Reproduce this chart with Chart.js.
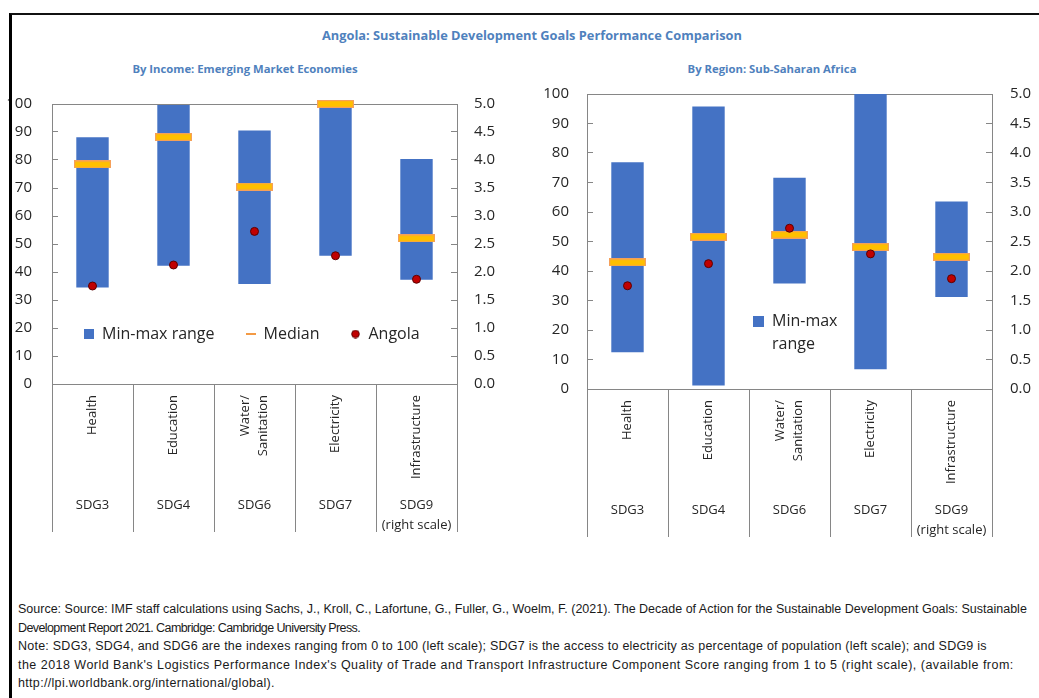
<!DOCTYPE html>
<html>
<head>
<meta charset="utf-8">
<script src="https://cdn.jsdelivr.net/npm/chart.js@4.4.1/dist/chart.umd.min.js"></script>
<style>
  html, body { margin: 0; padding: 0; background: #fff; }
  #page { position: relative; width: 1039px; height: 698px; overflow: hidden; background: #fff; }
  #frame { position: absolute; left: 9px; top: 13px; width: 1200px; height: 800px;
           border-left: 3px solid #000; border-top: 2px solid #111; z-index: 5; pointer-events: none; }
  .ttl { position: absolute; text-align: center; font-family: 'Open Sans', 'Noto Sans', sans-serif;
         font-weight: bold; color: #4f81bd; white-space: nowrap; }
  canvas { position: absolute; }
  #notes { position: absolute; left: 18px; top: 600px; font-family: 'Liberation Sans', Arial, sans-serif;
           font-size: 12.5px; line-height: 18.6px; color: #1a1a1a; white-space: nowrap; }
</style>
</head>
<body>
<div id="page">
  <div id="frame"></div>
  <div class="ttl" style="left:0;top:26px;width:1064px;font-size:12.8px;">Angola: Sustainable Development Goals Performance Comparison</div>
  <div class="ttl" style="left:0;top:61px;width:490px;font-size:11.3px;">By Income: Emerging Market Economies</div>
  <div class="ttl" style="left:520px;top:61px;width:504px;font-size:11.3px;">By Region: Sub-Saharan Africa</div>
  <canvas id="c1" width="520" height="472" style="left:0;top:69px;"></canvas>
  <canvas id="c2" width="519" height="489" style="left:520px;top:61px;"></canvas>
  <div id="notes">
    <div style="letter-spacing:0px">Source: Source: IMF staff calculations using Sachs, J., Kroll, C., Lafortune, G., Fuller, G., Woelm, F. (2021). The Decade of Action for the Sustainable Development Goals: Sustainable</div>
    <div style="letter-spacing:-0.59px">Development Report 2021. Cambridge: Cambridge University Press.</div>
    <div style="letter-spacing:0.24px">Note: SDG3, SDG4, and SDG6 are the indexes ranging from 0 to 100 (left scale); SDG7 is the access to electricity as percentage of population (left scale); and SDG9 is</div>
    <div style="letter-spacing:0.47px">the 2018 World Bank's Logistics Performance Index's Quality of Trade and Transport Infrastructure Component Score ranging from 1 to 5 (right scale), (available from:</div>
    <div style="letter-spacing:0.32px">http://lpi.worldbank.org/international/global).</div>
  </div>
</div>
<script>
// ---------- data ----------
const categories = ['Health', 'Education', ['Water/', 'Sanitation'], 'Electricity', 'Infrastructure'];
const sdgLabels = ['SDG3', 'SDG4', 'SDG6', 'SDG7', ['SDG9', '(right scale)']];
const rightScaleIndex = 4; // SDG9 uses the right scale (1-5)

// By Income: Emerging Market Economies
const emMin    = [34.5, 42.2, 35.7, 45.8, 1.86];
const emMax    = [88.1, 99.6, 90.5, 100.0, 4.02];
const emMedian = [78.4, 88.2, 70.5, 100.0, 2.60];

// By Region: Sub-Saharan Africa
const ssaMin    = [12.5, 1.2, 35.8, 6.7, 1.56];
const ssaMax    = [76.9, 95.8, 71.6, 100.0, 3.18];
const ssaMedian = [42.9, 51.6, 52.3, 48.1, 2.24];

// Angola
const angola = [35.0, 42.5, 54.5, 45.8, 1.87];

// ---------- styles ----------
const FONT = "'Open Sans', 'Noto Sans', sans-serif";
const TEXT = '#262626';
const GRID = '#868686';
const BAR = '#4472C4';
const MED_FILL = '#FFC000';
const MED_EDGE = '#F5A05A';
const DOT = '#C00000';

function makeCanvas(w, h, draw) {
  const c = document.createElement('canvas');
  c.width = w; c.height = h;
  draw(c.getContext('2d'), w, h);
  return c;
}
const medianImg = makeCanvas(37, 8, (g, w, h) => {
  g.fillStyle = MED_FILL; g.fillRect(0.5, 0.5, w - 1, h - 1);
  g.strokeStyle = MED_EDGE; g.lineWidth = 1.2; g.strokeRect(0.6, 0.6, w - 1.2, h - 1.2);
});
const boxImg = s => makeCanvas(s, s, (g, w, h) => { g.fillStyle = BAR; g.fillRect(0, 0, w, h); });
const blankImg = makeCanvas(11, 11, () => {});
const dashImg = makeCanvas(10, 2, (g, w, h) => { g.fillStyle = '#F39A45'; g.fillRect(0, 0, w, h); });
const dotImg = makeCanvas(9, 9, (g) => {
  g.beginPath(); g.arc(4.5, 4.5, 3.8, 0, Math.PI * 2);
  g.fillStyle = DOT; g.fill(); g.strokeStyle = '#5B0000'; g.lineWidth = 1; g.stroke();
});

function rangeFor(mins, maxs, right) {
  return mins.map((v, i) => ((i === rightScaleIndex) === right ? [v, maxs[i]] : null));
}
function valsFor(vals, right) {
  return vals.map((v, i) => ((i === rightScaleIndex) === right ? v : null));
}

// places the legend inside the plot area (legend reserves no layout space)
const legendInside = {
  id: 'legendInside',
  beforeLayout(chart) {
    const lg = chart.legend;
    if (lg && !lg.$wrapped) {
      const origFit = lg.fit;
      lg.fit = function () { origFit.call(this); this.$fullH = this.height; this.height = 0; };
      lg.$wrapped = true;
    }
  },
  afterUpdate(chart, args, opts) {
    const lg = chart.legend, a = chart.chartArea;
    lg.left = a.left + opts.dx;
    lg.right = opts.w ? lg.left + opts.w : a.right;
    lg.top = a.top + opts.dy;
    lg.height = opts.h || lg.$fullH || 40;
    lg.bottom = lg.top + lg.height;
    lg.width = lg.right - lg.left;
    if (lg.adjustHitBoxes) lg.adjustHitBoxes();
  }
};

// centre multi-line rotated category labels on their tick
const centerMultiline = {
  id: 'centerMultiline',
  beforeDraw(chart) {
    const sc = chart.scales.x;
    sc.getLabelItems(chart.chartArea).forEach(it => {
      if (Array.isArray(it.label) && it.label.length > 1 && !it.$shifted) {
        it.options.translation[0] -= (it.label.length - 1) * it.font.lineHeight / 2;
        it.$shifted = true;
      }
    });
  }
};

function buildChart(id, mins, maxs, medians, geo) {
  const datasets = [
    { type: 'bar', label: 'Min-max range', data: rangeFor(mins, maxs, false), yAxisID: 'y',
      backgroundColor: BAR, borderWidth: 0, grouped: false, barPercentage: 0.4, categoryPercentage: 1, order: 3 },
    { type: 'bar', label: 'Min-max range (right)', data: rangeFor(mins, maxs, true), yAxisID: 'y2',
      backgroundColor: BAR, borderWidth: 0, grouped: false, barPercentage: 0.4, categoryPercentage: 1, order: 3 },
    { type: 'line', label: 'Median', data: valsFor(medians, false), yAxisID: 'y', showLine: false,
      pointStyle: medianImg, pointRadius: 1, pointHoverRadius: 1, pointBorderWidth: 0, clip: false, order: 2 },
    { type: 'line', label: 'Median (right)', data: valsFor(medians, true), yAxisID: 'y2', showLine: false,
      pointStyle: medianImg, pointRadius: 1, pointHoverRadius: 1, pointBorderWidth: 0, clip: false, order: 2 },
    { type: 'line', label: 'Angola', data: valsFor(angola, false), yAxisID: 'y', showLine: false,
      pointStyle: 'circle', pointRadius: 4, pointHoverRadius: 4, pointBackgroundColor: DOT, pointBorderColor: '#5B0000',
      pointBorderWidth: 1, clip: false, order: 1 },
    { type: 'line', label: 'Angola (right)', data: valsFor(angola, true), yAxisID: 'y2', showLine: false,
      pointStyle: 'circle', pointRadius: 4, pointHoverRadius: 4, pointBackgroundColor: DOT, pointBorderColor: '#5B0000',
      pointBorderWidth: 1, clip: false, order: 1 }
  ];
  const tickFont = { family: FONT, size: 15 };
  const nameFont = { family: FONT, size: 13, lineHeight: 1.4 };
  const sdgFont = { family: FONT, size: 13, lineHeight: 1.55 };
  return new Chart(document.getElementById(id), {
    type: 'bar',
    data: { labels: categories, datasets },
    options: {
      responsive: false,
      animation: false,
      layout: { padding: { top: geo.padTop, bottom: geo.padBottom, left: 0, right: 0 } },
      plugins: {
        tooltip: { enabled: false },
        legend: {
          display: true, position: 'top', align: 'start',
          labels: {
            usePointStyle: true, boxWidth: geo.legBox, boxHeight: geo.legBox, padding: geo.legPad,
            font: { family: FONT, size: 16 }, color: TEXT,
            generateLabels: () => geo.legendItems.map((it, i) => ({
              text: it.text, pointStyle: it.img, fillStyle: 'transparent', strokeStyle: 'transparent',
              lineWidth: 0, hidden: false, datasetIndex: i, fontColor: TEXT
            }))
          }
        },
        legendInside: { dx: geo.legDx, dy: geo.legDy, w: geo.legW, h: geo.legH }
      },
      scales: {
        x: {
          type: 'category', position: 'bottom', weight: 0, offset: true,
          grid: { offset: true, drawOnChartArea: false, drawTicks: true, tickLength: geo.sepLen, color: GRID, lineWidth: 1 },
          border: { display: true, color: GRID, width: 1 },
          ticks: { autoSkip: false, minRotation: 90, maxRotation: 90, padding: -geo.sepLen + geo.nameGap,
                   font: nameFont, color: TEXT },
          afterFit: s => { s.height = geo.namesH; }
        },
        x2: {
          type: 'category', position: 'bottom', weight: 1, offset: true, labels: sdgLabels, display: true,
          grid: { display: false, drawTicks: false }, border: { display: false },
          ticks: { autoSkip: false, minRotation: 0, maxRotation: 0, padding: geo.sdgPad, font: sdgFont, color: TEXT },
          afterFit: s => { s.height = geo.sdgH; }
        },
        xTop: {
          type: 'category', position: 'top', offset: true, display: true,
          grid: { display: false, drawTicks: false }, ticks: { display: false },
          border: { display: true, color: GRID, width: 1 },
          afterFit: s => { s.height = 0; }
        },
        y: {
          type: 'linear', position: 'left', min: 0, max: 100,
          ticks: { stepSize: 10, padding: geo.yPad, font: tickFont, color: TEXT },
          grid: { drawOnChartArea: false, drawTicks: true, tickLength: -6, color: GRID },
          border: { color: GRID, width: 1 },
          afterFit: s => { s.width = geo.yW; }
        },
        y2: {
          type: 'linear', position: 'right', min: 0, max: 5,
          ticks: { stepSize: 0.5, padding: geo.y2Pad, font: tickFont, color: TEXT, callback: v => v.toFixed(1) },
          grid: { drawOnChartArea: false, drawTicks: true, tickLength: -6, color: GRID },
          border: { color: GRID, width: 1 },
          afterFit: s => { s.width = geo.y2W; }
        }
      }
    },
    plugins: [legendInside, centerMultiline]
  });
}

buildChart('c1', emMin, emMax, emMedian, {
  padTop: 13, padBottom: 2, namesH: 105, sdgH: 50, sepLen: 148, nameGap: 11, sdgPad: 6,
  yW: 52, yPad: 26, y2W: 63, y2Pad: 23,
  legBox: 10, legPad: 31, legDx: 1, legDy: 191, legW: 0, legH: 0,
  legendItems: [
    { text: 'Min-max range', img: boxImg(10) },
    { text: 'Median', img: dashImg },
    { text: 'Angola', img: dotImg }
  ]
});

buildChart('c2', ssaMin, ssaMax, ssaMedian, {
  padTop: 14, padBottom: 4, namesH: 105, sdgH: 52, sepLen: 148, nameGap: 11, sdgPad: 6,
  yW: 67, yPad: 24, y2W: 47, y2Pad: 24,
  legBox: 11, legPad: 7, legDx: 159, legDy: 212, legW: 120, legH: 70,
  legendItems: [
    { text: 'Min-max', img: boxImg(11) },
    { text: 'range', img: blankImg }
  ]
});
</script>
</body>
</html>
